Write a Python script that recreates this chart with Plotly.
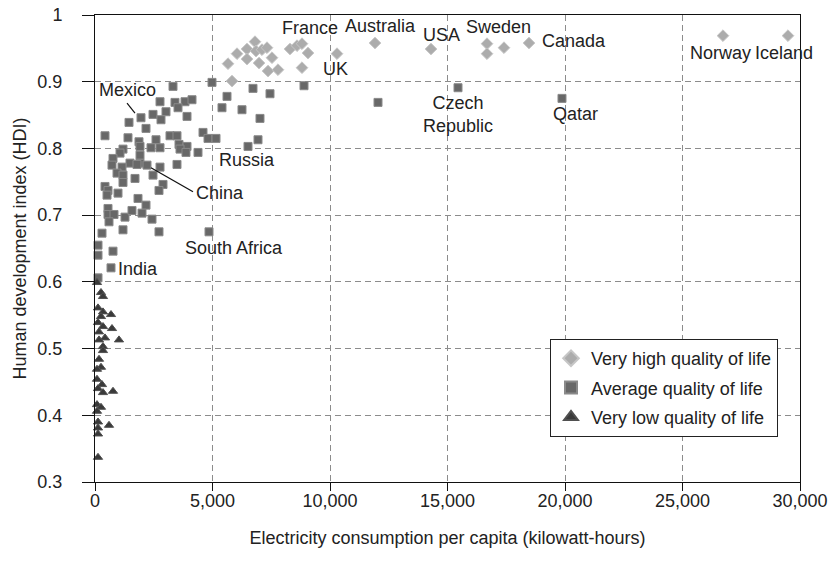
import plotly.graph_objects as go

# ---------------- data (kWh per capita, HDI) ----------------
high_x = [6808, 6043, 6468, 6851, 7106, 7319, 6468, 6979, 7532, 5660, 7362, 7787, 5830,
          8298, 8596, 8808, 9064, 8808, 10298, 11915, 14298, 16681, 16681, 17404, 18468,
          26723, 29489]
high_y = [0.960, 0.942, 0.949, 0.946, 0.948, 0.951, 0.934, 0.928, 0.936, 0.927, 0.916, 0.918, 0.901,
          0.949, 0.954, 0.957, 0.943, 0.921, 0.942, 0.958, 0.949, 0.957, 0.942, 0.951, 0.958,
          0.969, 0.969]

avg_x = [4979, 3319, 6723, 7447, 5617, 8894, 2766, 3404, 3830, 4128, 5404, 3532, 6255, 3021,
         2468, 3915, 1957, 2809, 1447, 7021, 2170, 426, 1404, 1872, 2596, 3191, 3489, 4596,
         4809, 5149, 6936, 6511, 2383, 2766, 1915, 3574, 3915, 3617, 3872, 4383, 1191, 1064,
         766, 723, 1489, 1915, 2213, 2766, 3489, 1915, 1149, 1787, 936, 1191, 1191, 1702,
         2468, 2894, 2723, 426, 553, 511, 979, 1830, 2170, 553, 553, 809, 596, 1277, 1574,
         2000, 2426, 298, 1191, 2723, 4851, 128, 128, 766, 681, 128, 12043, 15447, 19872]
avg_y = [0.899, 0.893, 0.890, 0.882, 0.878, 0.894, 0.870, 0.869, 0.870, 0.873, 0.861, 0.861, 0.858, 0.855,
         0.851, 0.848, 0.846, 0.843, 0.839, 0.845, 0.830, 0.819, 0.816, 0.810, 0.813, 0.819, 0.819, 0.824,
         0.815, 0.815, 0.813, 0.803, 0.801, 0.801, 0.803, 0.806, 0.803, 0.799, 0.794, 0.794, 0.799, 0.793,
         0.785, 0.775, 0.778, 0.778, 0.775, 0.772, 0.776, 0.790, 0.772, 0.776, 0.763, 0.760, 0.749, 0.755,
         0.760, 0.746, 0.737, 0.743, 0.737, 0.730, 0.733, 0.725, 0.715, 0.710, 0.701, 0.701, 0.690, 0.697, 0.707,
         0.703, 0.694, 0.673, 0.678, 0.675, 0.675, 0.655, 0.640, 0.646, 0.621, 0.606, 0.869, 0.891, 0.875]

low_x = [85, 255, 340, 128, 340, 255, 681, 128, 340, 723, 170, 426, 1021, 170, 340, 340,
         170, 255, 85, 85, 298, 128, 340, 766, 85, 255, 85, 128, 596, 128, 128, 128]
low_y = [0.599, 0.584, 0.578, 0.561, 0.555, 0.548, 0.551, 0.539, 0.533, 0.530, 0.525, 0.516, 0.513, 0.513, 0.503, 0.497,
         0.484, 0.472, 0.469, 0.454, 0.446, 0.440, 0.434, 0.436, 0.416, 0.412, 0.406, 0.390, 0.385, 0.381, 0.372, 0.337]

series_names = ["Very high quality of life", "Average quality of life", "Very low quality of life"]

label_text = ["France", "Australia", "USA", "Sweden", "Canada", "Norway", "Iceland", "UK",
              "Czech<br>Republic", "Qatar", "Mexico", "Russia", "China", "South Africa", "India"]
label_x = [9149, 12128, 14745, 17149, 20383, 26596, 29340, 10255,
           15447, 20426, 1404, 6489, 5319, 5915, 1830]
label_y = [0.981, 0.984, 0.970, 0.982, 0.961, 0.943, 0.943, 0.919,
           0.851, 0.851, 0.887, 0.782, 0.733, 0.651, 0.619]

# leader lines (Mexico, China): start/end in data units
leader_x0 = [1362, 2383]
leader_y0 = [0.868, 0.771]
leader_x1 = [1702, 4170]
leader_y1 = [0.853, 0.735]

x_ticks = [0, 5000, 10000, 15000, 20000, 25000, 30000]
x_ticklabels = ["0", "5,000", "10,000", "15,000", "20,000", "25,000", "30,000"]
y_ticks = [0.3, 0.4, 0.5, 0.6, 0.7, 0.8, 0.9, 1.0]
y_ticklabels = ["0.3", "0.4", "0.5", "0.6", "0.7", "0.8", "0.9", "1"]

FONT = "Liberation Sans, Arial, Helvetica, sans-serif"
TXT = "#222222"

fig = go.Figure()
fig.add_trace(go.Scatter(
    x=high_x, y=high_y, mode="markers", name=series_names[0], legendgroup="a",
    marker=dict(symbol="diamond", size=9, color="#acacac", line=dict(color="#c6c6c6", width=1)),
    cliponaxis=False))
fig.add_trace(go.Scatter(
    x=avg_x, y=avg_y, mode="markers", name=series_names[1], legendgroup="b",
    marker=dict(symbol="square", size=8, color="#686868", line=dict(color="#8a8a8a", width=1)),
    cliponaxis=False))
fig.add_trace(go.Scatter(
    x=low_x, y=low_y, mode="markers", name=series_names[2], legendgroup="c",
    marker=dict(symbol="triangle-up", size=8, color="#3a3a3a", line=dict(color="#505050", width=1)),
    cliponaxis=False))

for t, x, y in zip(label_text, label_x, label_y):
    fig.add_annotation(x=x, y=y, text=t, showarrow=False, xanchor="center", yanchor="middle",
                       font=dict(family=FONT, size=18, color=TXT))

for x0, y0, x1, y1 in zip(leader_x0, leader_y0, leader_x1, leader_y1):
    fig.add_shape(type="line", x0=x0, y0=y0, x1=x1, y1=y1, xref="x", yref="y",
                  line=dict(color="#111111", width=1.2))

axis_common = dict(
    showline=True, linecolor="#111111", linewidth=1, mirror=True,
    ticks="outside", tickcolor="#111111", tickwidth=1,
    showgrid=True, gridcolor="#8c8c8c", gridwidth=1, griddash="6px,4px",
    zeroline=False, automargin=False,
    tickfont=dict(family=FONT, size=18, color=TXT),
)

fig.update_xaxes(range=[0, 30000], tickvals=x_ticks, ticktext=x_ticklabels,
                 ticklen=8, ticklabelstandoff=-6,
                 title=dict(text="Electricity consumption per capita (kilowatt-hours)",
                            font=dict(family=FONT, size=18, color=TXT), standoff=21),
                 **axis_common)
fig.update_yaxes(range=[0.3, 1.0], tickvals=y_ticks, ticktext=y_ticklabels,
                 ticklen=12, ticklabelstandoff=16,
                 title=dict(text="Human development index (HDI)",
                            font=dict(family=FONT, size=18, color=TXT), standoff=6),
                 **axis_common)

fig.update_layout(
    template="none",
    width=834, height=561,
    margin=dict(l=95, r=34, t=15, b=79, autoexpand=False),
    paper_bgcolor="white", plot_bgcolor="white",
    font=dict(family=FONT, size=18, color=TXT),
    showlegend=True,
    legend=dict(x=0.9688, y=0.0964, xanchor="right", yanchor="bottom",
                bgcolor="white", bordercolor="#222222", borderwidth=1,
                font=dict(family=FONT, size=18, color=TXT),
                tracegroupgap=3, itemsizing="constant"),
)

fig.write_html("out.html", config={"displayModeBar": False},
               post_script="document.body.style.margin='0';document.body.style.overflow='hidden';")
